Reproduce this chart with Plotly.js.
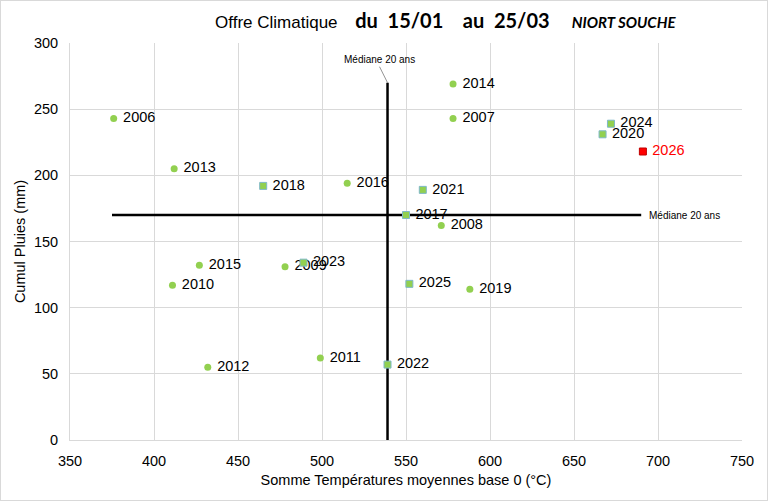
<!DOCTYPE html>
<html><head><meta charset="utf-8">
<script src="https://cdn.plot.ly/plotly-3.0.1.min.js"></script>
<style>html,body{margin:0;padding:0;background:#fff}#c{width:766px;height:499px;border:1px solid #d9d9d9}</style>
</head><body><div id="c"></div>
<script>
// Older years (circles)
const circYears = ['2006','2007','2008','2009','2010','2011','2012','2013','2014','2015','2016','2019'];
const circX = [376, 578, 571, 478, 411, 499, 432, 412, 578, 427, 515, 588];
const circY = [243, 243, 162, 131, 117, 62, 55, 205, 269, 132, 194, 114];
// Recent years (squares)
const sqYears = ['2017','2018','2020','2021','2022','2023','2024','2025'];
const sqX = [550, 465, 667, 560, 539, 489, 672, 552];
const sqY = [170, 192, 231, 189, 57, 134, 239, 118];
// Current year
const curYear = ['2026'];
const curX = [691];
const curY = [218];
// 20-year medians
const medX = 539, medY = 170;
const medXSpanY = [0, 270];
const medYSpanX = [375, 690];

const lblFont = {family:'Liberation Sans, Arial, sans-serif', size:14.5, color:'#000'};
const tpl = ' %{text}';
const traces = [
  {x:[medX,medX], y:medXSpanY, mode:'lines', line:{color:'#000', width:2.5}, hoverinfo:'skip'},
  {x:medYSpanX, y:[medY,medY], mode:'lines', line:{color:'#000', width:2.5}, hoverinfo:'skip'},
  {x:circX, y:circY, text:circYears, texttemplate:tpl, mode:'markers+text', textposition:'middle right', textfont:lblFont,
   marker:{symbol:'circle', size:7, color:'#92d050'}},
  {x:sqX, y:sqY, text:sqYears, texttemplate:tpl, mode:'markers+text', textposition:'middle right', textfont:lblFont,
   marker:{symbol:'square', size:7, color:'#92d050', line:{color:'#7fb8c8', width:1}}},
  {x:curX, y:curY, text:curYear, texttemplate:tpl, mode:'markers+text', textposition:'middle right',
   textfont:{family:'Liberation Sans, Arial, sans-serif', size:14.5, color:'#ff0000'},
   marker:{symbol:'square', size:7, color:'#ff0000', line:{color:'#c00000', width:1}}}
];
const layout = {
  width:766, height:499, showlegend:false,
  margin:{l:69, r:25, t:42, b:60},
  paper_bgcolor:'#fff', plot_bgcolor:'#fff',
  title:{text:'<span style="font-family:Liberation Sans;font-size:17px">Offre Climatique</span>    <b style="font-family:Lato;font-size:20px">du  15/01    au  25/03</b>     <b style="font-family:Lato;font-size:15px"><i>NIORT SOUCHE</i></b>',
         x:0.58, xanchor:'center', y:0.958, yanchor:'middle', font:{color:'#000'}},
  xaxis:{range:[350,750], dtick:50, tick0:350, showgrid:true, gridcolor:'#d9d9d9', gridwidth:1,
         zeroline:false, showline:true, linecolor:'#d9d9d9', ticks:'', ticklabelstandoff:8,
         tickfont:{family:'Liberation Sans, Arial', size:14.5, color:'#000'},
         title:{text:'Somme Températures moyennes base 0 (°C)', font:{family:'Liberation Sans, Arial', size:14.5, color:'#000'}, standoff:6}},
  yaxis:{range:[0,300], dtick:50, showgrid:true, gridcolor:'#d9d9d9', gridwidth:1,
         zeroline:false, showline:true, linecolor:'#d9d9d9', ticks:'', ticklabelstandoff:8,
         tickfont:{family:'Liberation Sans, Arial', size:14.5, color:'#000'},
         title:{text:'Cumul Pluies (mm)', font:{family:'Liberation Sans, Arial', size:14.5, color:'#000'}, standoff:4}},
  annotations:[
    {x:medX, y:medXSpanY[1], xref:'x', yref:'y', text:'Médiane 20 ans', showarrow:true, arrowhead:0, arrowwidth:0.7, arrowcolor:'#666',
     ax:-8, ay:-16, font:{family:'Liberation Sans, Arial', size:10, color:'#000'}, yanchor:'bottom'},
    {x:medYSpanX[1], y:medY, xref:'x', yref:'y', text:'Médiane 20 ans', showarrow:false, xanchor:'left', xshift:6,
     font:{family:'Liberation Sans, Arial', size:10, color:'#000'}}
  ]
};
Plotly.newPlot('c', traces, layout, {displayModeBar:false, staticPlot:true});
</script></body></html>
